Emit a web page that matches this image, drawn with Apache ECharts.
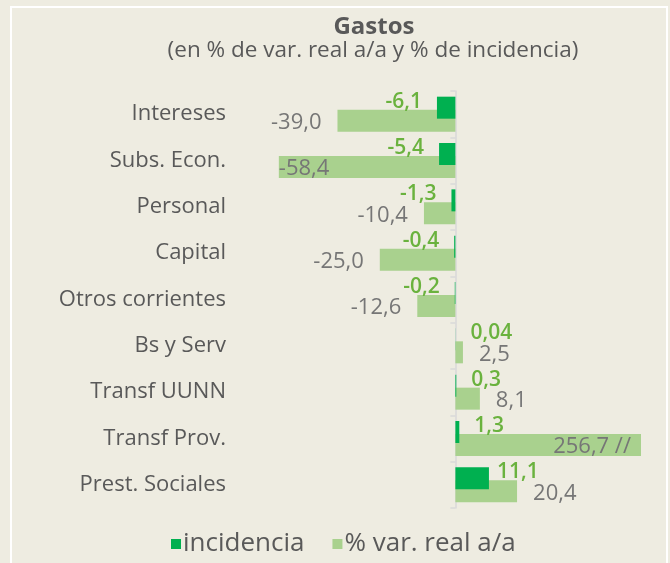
<!DOCTYPE html>
<html>
<head>
<meta charset="utf-8">
<script src="https://cdn.jsdelivr.net/npm/echarts@6/dist/echarts.min.js"></script>
<style>
  html, body { margin: 0; padding: 0; background: #EEECE1; }
  #chart { width: 670px; height: 563px; }
</style>
</head>
<body>
<div id="chart"></div>
<script>
const categories = ["Intereses", "Subs. Econ.", "Personal", "Capital", "Otros corrientes", "Bs y Serv", "Transf UUNN", "Transf Prov.", "Prest. Sociales"];
const incidencia = [-6.1, -5.4, -1.3, -0.4, -0.2, 0.04, 0.3, 1.3, 11.1];
const varReal = [-39.0, -58.4, -10.4, -25.0, -12.6, 2.5, 8.1, 256.7, 20.4];
const axisCap = 61.4; // eje cortado ("//")

const font = "Open Sans";

function fmt(v) {
  const s = Math.abs(v) < 0.1 ? v.toFixed(2) : v.toFixed(1);
  return s.replace(".", ",");
}

// etiquetas a un lado u otro de la barra segun signo
function items(values, extra) {
  return values.map((v, i) => {
    const item = { value: v, label: { position: v < 0 ? "left" : "right" } };
    if (extra && extra[i]) Object.assign(item.label, extra[i]);
    return item;
  });
}

const chart = echarts.init(document.getElementById("chart"));
chart.setOption({
  backgroundColor: "#EEECE1",
  animation: false,
  title: [
    {
      text: "Gastos", left: 374, top: 15, padding: 0, textAlign: "center",
      textStyle: { fontFamily: font, fontSize: 24, fontWeight: "bold", color: "#595959" }
    },
    {
      text: "(en % de var. real a/a y % de incidencia)", left: 373, top: 39, padding: 0, textAlign: "center",
      textStyle: { fontFamily: font, fontSize: 22.5, fontWeight: "normal", color: "#595959" }
    }
  ],
  graphic: [
    { type: "rect", shape: { x: 11, y: 7, width: 656, height: 600 }, style: { fill: null, stroke: "#ffffff", lineWidth: 2 }, silent: true }
  ],
  legend: {
    left: 166, top: 526, itemWidth: 10, itemHeight: 10, itemGap: 28,
    icon: "rect",
    textStyle: { fontFamily: font, fontSize: 26, color: "#595959", padding: [0, 0, 0, -3] },
    data: ["incidencia", "% var. real a/a"]
  },
  grid: { left: 274, right: 29, top: 91, bottom: 55, outerBoundsMode: "none" },
  xAxis: {
    type: "value", min: -60, max: axisCap, show: false,
    splitLine: { show: false }
  },
  yAxis: {
    type: "category", data: categories, inverse: true,
    axisLine: { onZero: true, lineStyle: { color: "#D9D9D9", width: 1.5 } },
    axisTick: { show: true, length: 5, lineStyle: { color: "#D9D9D9", width: 1.5 } },
    axisLabel: { margin: 48, padding: [6, 0, 0, 0], fontFamily: font, fontSize: 22, color: "#595959" }
  },
  series: [
    {
      name: "incidencia", type: "bar", barWidth: 22, barGap: "-41%", z: 3,
      itemStyle: { color: "#00B050" },
      label: {
        show: true, distance: 15, offset: [0, -6],
        fontFamily: font, fontSize: 21, fontWeight: 600, color: "#6AB23E",
        formatter: p => fmt(p.value)
      },
      data: items(incidencia, { 8: { distance: 8 } })
    },
    {
      name: "% var. real a/a", type: "bar", barWidth: 22, z: 2, clip: true,
      itemStyle: { color: "#A9D18E" },
      label: {
        show: true, distance: 16, offset: [0, 2],
        fontFamily: font, fontSize: 22, color: "#767676",
        formatter: p => p.value > axisCap ? fmt(p.value) + " //" : fmt(p.value)
      },
      data: items(varReal, { 1: { position: "insideLeft", distance: 0 }, 7: { position: "insideRight", distance: 10 } })
    }
  ]
});
</script>
</body>
</html>
